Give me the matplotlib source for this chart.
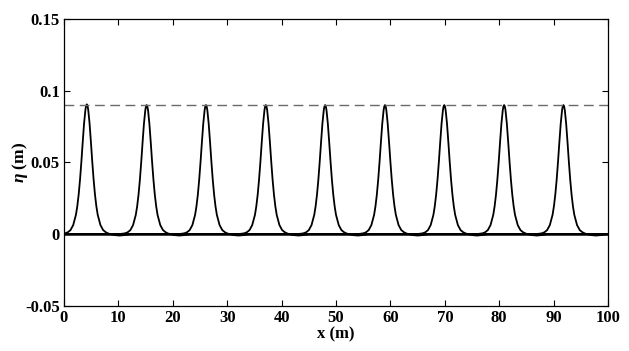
import numpy as np
import matplotlib
matplotlib.use("Agg")
import matplotlib.pyplot as plt

# Peak positions (m) of the wave snapshots
peak_x = [4.2, 15.2, 26.1, 37.1, 48.0, 59.0, 69.9, 80.9, 91.8]
peak_h = [0.0905, 0.0900, 0.0900, 0.0900, 0.0900, 0.0900, 0.0900, 0.0900, 0.0900]
# Wave profile: offsets from crest (m) and normalised elevation
prof_dx = [-6.0, -5.0, -4.0, -3.5, -3.0, -2.5, -2.0, -1.75, -1.5, -1.25, -1.0, -0.75,
           -0.5, -0.25, -0.125, 0.0, 0.125, 0.25, 0.5, 0.75, 1.0, 1.25, 1.5, 1.75,
           2.0, 2.5, 3.0, 3.5, 4.0, 5.0, 6.0, 7.0, 8.0]
prof_eta = [0.0, 0.001, 0.007, 0.015, 0.032, 0.071, 0.150, 0.216, 0.305, 0.420, 0.559, 0.712,
            0.856, 0.961, 0.990, 1.0, 0.990, 0.961, 0.856, 0.712, 0.559, 0.420, 0.305, 0.216,
            0.150, 0.071, 0.032, 0.015, 0.005, -0.006, -0.010, -0.006, 0.0]
ref_level = 0.09
xlim = [0, 100]
ylim = [-0.05, 0.15]
xticks = [0, 10, 20, 30, 40, 50, 60, 70, 80, 90, 100]
yticks = [-0.05, 0, 0.05, 0.1, 0.15]
ytick_labels = ["-0.05", "0", "0.05", "0.1", "0.15"]

plt.rcParams['font.family'] = ['Liberation Serif', 'DejaVu Serif']
plt.rcParams['mathtext.fontset'] = 'custom'
plt.rcParams['mathtext.it'] = 'Liberation Serif:italic:bold'
plt.rcParams['mathtext.rm'] = 'Liberation Serif:bold'

fig = plt.figure(figsize=(6.29, 3.51), dpi=100)
ax = fig.add_axes([0.1017, 0.1282, 0.865, 0.8177])

for px, ph in zip(peak_x, peak_h):
    xs = [xlim[0]] + [px + d for d in prof_dx] + [xlim[1]]
    ys = [0.0] + [ph * e for e in prof_eta] + [0.0]
    pts = sorted(zip(xs, ys))
    pts = [(x, y) for x, y in pts if xlim[0] <= x <= xlim[1]]
    ax.plot([p[0] for p in pts], [p[1] for p in pts], color='black', lw=1.3)

ax.axhline(ref_level, color='#6a6a6a', lw=1.0, ls=(0, (7, 4)))

ax.set_xlim(xlim)
ax.set_ylim(ylim)
ax.set_xticks(xticks)
ax.set_yticks(yticks)
ax.set_yticklabels(ytick_labels)
ax.tick_params(direction='in', top=True, right=True, length=4, width=0.8,
               labelsize=12, pad=3)
for lab in ax.get_xticklabels() + ax.get_yticklabels():
    lab.set_fontweight('bold')
for s in ax.spines.values():
    s.set_linewidth(0.9)
ax.set_xlabel('x (m)', fontsize=12, fontweight='bold', labelpad=0)
ax.set_ylabel(r'$\eta$ (m)', fontsize=12.5, fontweight='bold')
ax.yaxis.set_label_coords(-0.062, 0.5)

fig.savefig('out.png', dpi=100)
